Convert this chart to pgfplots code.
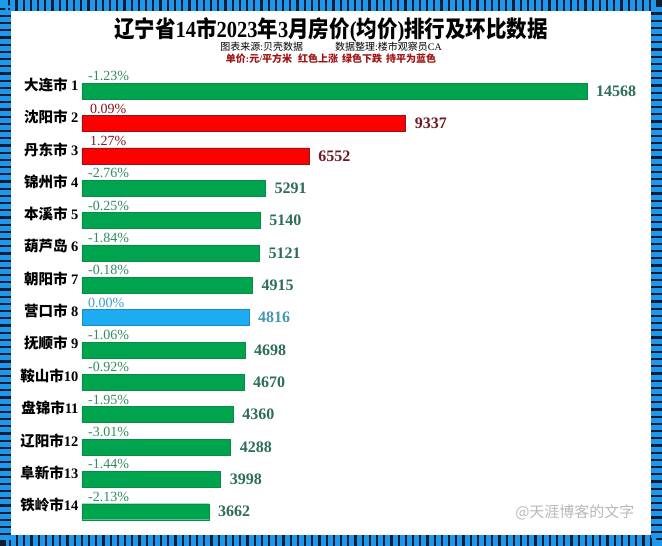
\documentclass[border=0pt]{standalone}
\usepackage{pgfplots}
\pgfplotsset{compat=1.18}
\usepackage{fontspec}
\setmainfont{Liberation Serif}
\newfontfamily\cjk{Noto Sans CJK SC}
\definecolor{frameBlue}{RGB}{28,152,236}
\definecolor{frameDark}{RGB}{20,28,50}
\definecolor{barGreen}{RGB}{0,163,78}
\definecolor{barGreenD}{RGB}{10,140,70}
\definecolor{barRed}{RGB}{255,0,0}
\definecolor{barRedD}{RGB}{150,20,25}
\definecolor{barBlue}{RGB}{30,172,240}
\definecolor{barBlueD}{RGB}{20,140,210}
\definecolor{valGreen}{RGB}{45,110,85}
\definecolor{valRed}{RGB}{110,25,35}
\definecolor{valBlue}{RGB}{70,150,180}
\definecolor{pctGreen}{RGB}{50,140,95}
\definecolor{pctRed}{RGB}{140,20,30}
\definecolor{pctBlue}{RGB}{60,160,200}
\definecolor{subRed}{RGB}{160,20,20}
\begin{document}
\begin{tikzpicture}[x=1pt,y=1pt]
\path[use as bounding box, fill=white] (0,0) rectangle (662,546);
\draw[line width=11pt, color=frameDark] (5.5,5.5) rectangle (656.5,540.5);
\draw[line width=11pt, color=frameBlue, dash pattern=on 5pt off 2.2pt] (5.5,5.5) rectangle (656.5,540.5);
% titles
\node[font=\fontsize{20.5}{22}\selectfont\bfseries, yscale=1.12] at (331,516)
  {{\cjk 辽宁省}14{\cjk 市}2023{\cjk 年}3{\cjk 月房价}({\cjk 均价}){\cjk 排行及环比数据}};
\node[font=\fontsize{10}{11}\selectfont] at (331,499)
  {{\cjk 图表来源}:{\cjk 贝壳数据}\hspace{3.2em}{\cjk 数据整理}:{\cjk 楼市观察员}CA};
\node[font=\fontsize{10}{11}\selectfont\bfseries, text=subRed] at (331,487)
  {{\cjk 单价}:{\cjk 元}/{\cjk 平方米}\hspace{0.6em}{\cjk 红色上涨}\hspace{0.4em}{\cjk 绿色下跌}\hspace{0.4em}{\cjk 持平为蓝色}};
\node[text=gray!55, font=\fontsize{15}{15}\selectfont\cjk, anchor=east] at (638,34) {@天涯博客的文字};
\begin{axis}[
  at={(82pt,18.13pt)}, anchor=south west,
  scale only axis, width=520pt, height=452.74pt,
  xmin=0, xmax=15000, ymin=0.5, ymax=14.5, y dir=reverse,
  axis line style={draw=none}, major tick length=0pt,
  xtick=\empty, ytick={1,...,14},
  yticklabels={{{\cjk 大连市} 1},{{\cjk 沈阳市} 2},{{\cjk 丹东市} 3},{{\cjk 锦州市} 4},{{\cjk 本溪市} 5},{{\cjk 葫芦岛} 6},{{\cjk 朝阳市} 7},{{\cjk 营口市} 8},{{\cjk 抚顺市} 9},{{\cjk 鞍山市}10},{{\cjk 盘锦市}11},{{\cjk 辽阳市}12},{{\cjk 阜新市}13},{{\cjk 铁岭市}14}},
  yticklabel style={font=\fontsize{14.5}{15}\selectfont\bfseries, text=black, yshift=6.5pt},
  clip=false,
  /pgf/number format/.cd, 1000 sep={}, assume math mode=true,
]
% bars
\addplot[xbar, bar width=16pt, bar shift=0pt, fill=barGreen, draw=barGreenD,
  nodes near coords, nodes near coords style={anchor=west, inner sep=0pt, xshift=9pt, text=valGreen, font=\fontsize{16}{16}\selectfont\bfseries}]
  coordinates {(14568,1) (5291,4) (5140,5) (5121,6) (4915,7) (4698,9) (4670,10) (4360,11) (4288,12) (3998,13) (3662,14)};
\addplot[xbar, bar width=16pt, bar shift=0pt, fill=barRed, draw=barRedD,
  nodes near coords, nodes near coords style={anchor=west, inner sep=0pt, xshift=9pt, text=valRed, font=\fontsize{16}{16}\selectfont\bfseries}]
  coordinates {(9337,2) (6552,3)};
\addplot[xbar, bar width=16pt, bar shift=0pt, fill=barBlue, draw=barBlueD,
  nodes near coords, nodes near coords style={anchor=west, inner sep=0pt, xshift=9pt, text=valBlue, font=\fontsize{16}{16}\selectfont\bfseries}]
  coordinates {(4816,8)};
% percent labels
\addplot[draw=none, mark=none, nodes near coords, point meta=explicit symbolic,
  nodes near coords style={anchor=west, inner sep=0pt, xshift=6pt, yshift=15pt, text=pctGreen, font=\fontsize{14}{14}\selectfont}]
  coordinates {(0,1) [-1.23\%] (0,4) [-2.76\%] (0,5) [-0.25\%] (0,6) [-1.84\%] (0,7) [-0.18\%] (0,9) [-1.06\%] (0,10) [-0.92\%] (0,11) [-1.95\%] (0,12) [-3.01\%] (0,13) [-1.44\%] (0,14) [-2.13\%]};
\addplot[draw=none, mark=none, nodes near coords, point meta=explicit symbolic,
  nodes near coords style={anchor=west, inner sep=0pt, xshift=8pt, yshift=15pt, text=pctRed, font=\fontsize{14}{14}\selectfont}]
  coordinates {(0,2) [0.09\%] (0,3) [1.27\%]};
\addplot[draw=none, mark=none, nodes near coords, point meta=explicit symbolic,
  nodes near coords style={anchor=west, inner sep=0pt, xshift=6pt, yshift=15pt, text=pctBlue, font=\fontsize{14}{14}\selectfont}]
  coordinates {(0,8) [0.00\%]};
\end{axis}
\end{tikzpicture}
\end{document}
